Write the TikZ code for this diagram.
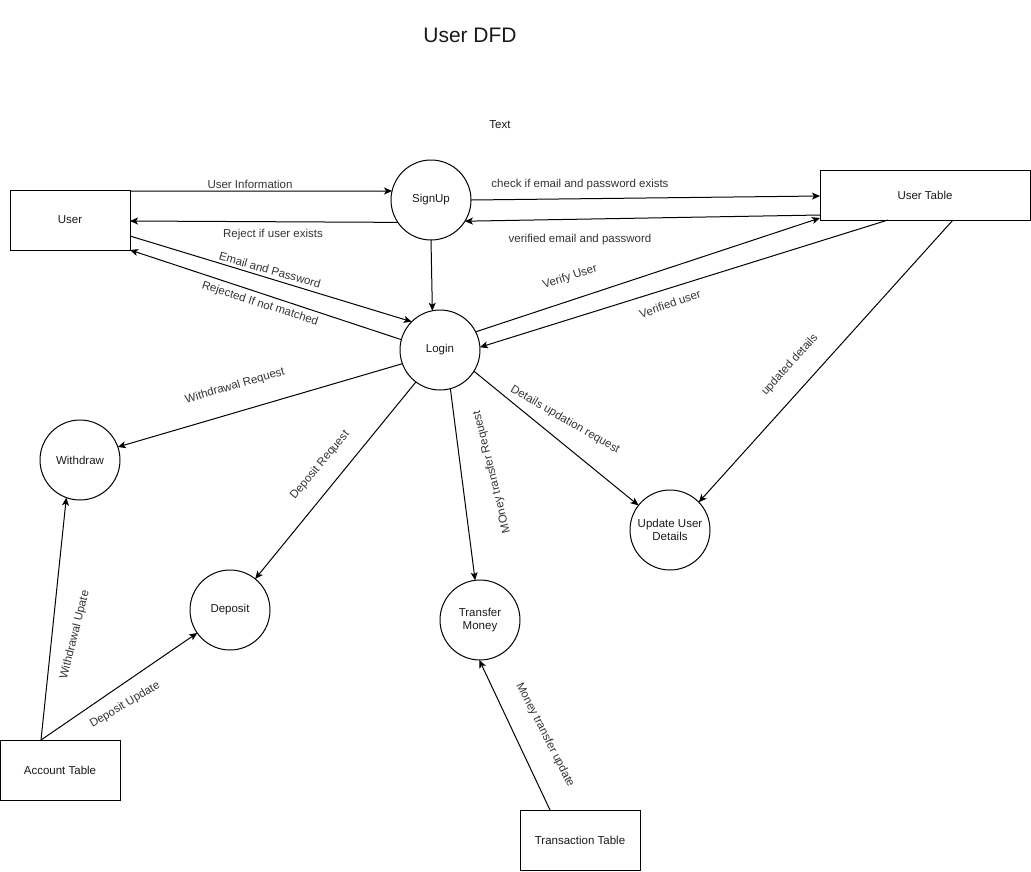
\documentclass[tikz,border=0pt]{standalone}
\usepackage{fontspec}
\setmainfont{Liberation Sans}
\usetikzlibrary{arrows.meta}
\begin{document}
\begin{tikzpicture}[x=1pt,y=-1pt,
  every node/.style={font=\fontsize{11.5}{13.5}\selectfont, text=black!90},
  entity/.style={draw, line width=1pt, rectangle, outer sep=0pt, inner sep=0pt, align=center},
  proc/.style={draw, line width=1pt, circle, minimum size=80pt, inner sep=0pt, outer sep=0pt, align=center},
  flow/.style={line width=1pt, -{Stealth[length=8pt,width=7pt,inset=2pt]}},
  lbl/.style={inner sep=0pt, text=black!80},
]
\useasboundingbox (0,0) rectangle (1031,871);

% title and free text
\node (title) at (470,35) {\fontsize{21}{25}\selectfont User DFD};
\node (txt) at (500,125) {Text};

% entities
\node[entity, minimum width=120pt, minimum height=60pt] (user) at (70,220) {User};
\node[entity, minimum width=210pt, minimum height=50pt] (utab) at (925,195) {User Table};
\node[entity, minimum width=120pt, minimum height=60pt] (acct) at (60,770) {Account Table};
\node[entity, minimum width=120pt, minimum height=60pt] (trans) at (580,840) {Transaction Table};

% processes
\node[proc] (signup) at (431,200) {SignUp};
\node[proc] (login) at (440,350) {Login};
\node[proc] (withdraw) at (80,460) {Withdraw};
\node[proc] (deposit) at (230,610) {Deposit};
\node[proc] (transfer) at (480,620) {Transfer\\Money};
\node[proc] (update) at (670,530) {Update User\\Details};

% flows
\draw[flow] ([yshift=-1pt]user.north east) -- (signup.167);
\node[lbl] (l1) at (250,184) {User Information};

\draw[flow] (signup.214) -- ([yshift=-1pt]user.east);
\node[lbl] (l2) at (273,235) {Reject if user exists};

\draw[flow] (signup.0) -- ([yshift=-1pt]utab.west);
\node[lbl] (l3) at (580,185) {check if email and password exists};

\draw[flow] ([yshift=-20pt]utab.west) -- (signup.-32);
\node[lbl] (l4) at (580,240) {verified email and password};

\draw[flow] (signup.270) -- (login.101);

\draw[flow] ([yshift=-16pt]user.east) -- (login.135);
\node[lbl, rotate=-16] (l5) at (270,270) {Email and Password};

\draw[flow] (login.165) -- (user.south east);
\node[lbl, rotate=-18] (l6) at (260,304) {Rejected If not matched};

\draw[flow] (login.27) -- ([yshift=2pt]utab.south west);
\node[lbl, rotate=18] (l7) at (570,277) {Verify User};

\draw[flow] ([xshift=-37pt]utab.south) -- (login.4);
\node[lbl, rotate=19] (l8) at (670,304) {Verified user};

\draw[flow] ([xshift=28pt]utab.south) -- (update.44);
\node[lbl, rotate=48] (l9) at (790,365) {updated details};

\draw[flow] (login.200) -- (withdraw.19);
\node[lbl, rotate=16] (l10) at (235,386) {Withdrawal Request};

\draw[flow] (login.233) -- (deposit.51);
\node[lbl, rotate=50] (l11) at (320,465) {Deposit Request};

\draw[flow] (login.285) -- (transfer.97);
\node[lbl, rotate=104] (l12) at (492,472) {MOney transfer Request};

\draw[flow] (login.-32) -- (update.142);
\node[lbl, rotate=-30] (l13) at (565,420) {Details updation request};

\draw[flow] ([xshift=-19pt]acct.north) -- (withdraw.250);
\node[lbl, rotate=76] (l14) at (75,635) {Withdrawal Upate};

\draw[flow] ([xshift=-19pt]acct.north) -- (deposit.215);
\node[lbl, rotate=31] (l15) at (125,705) {Deposit Update};

\draw[flow] ([xshift=-30pt]trans.north) -- (transfer.269);
\node[lbl, rotate=-63] (l16) at (545,735) {Money transfer update};
\end{tikzpicture}
\end{document}
